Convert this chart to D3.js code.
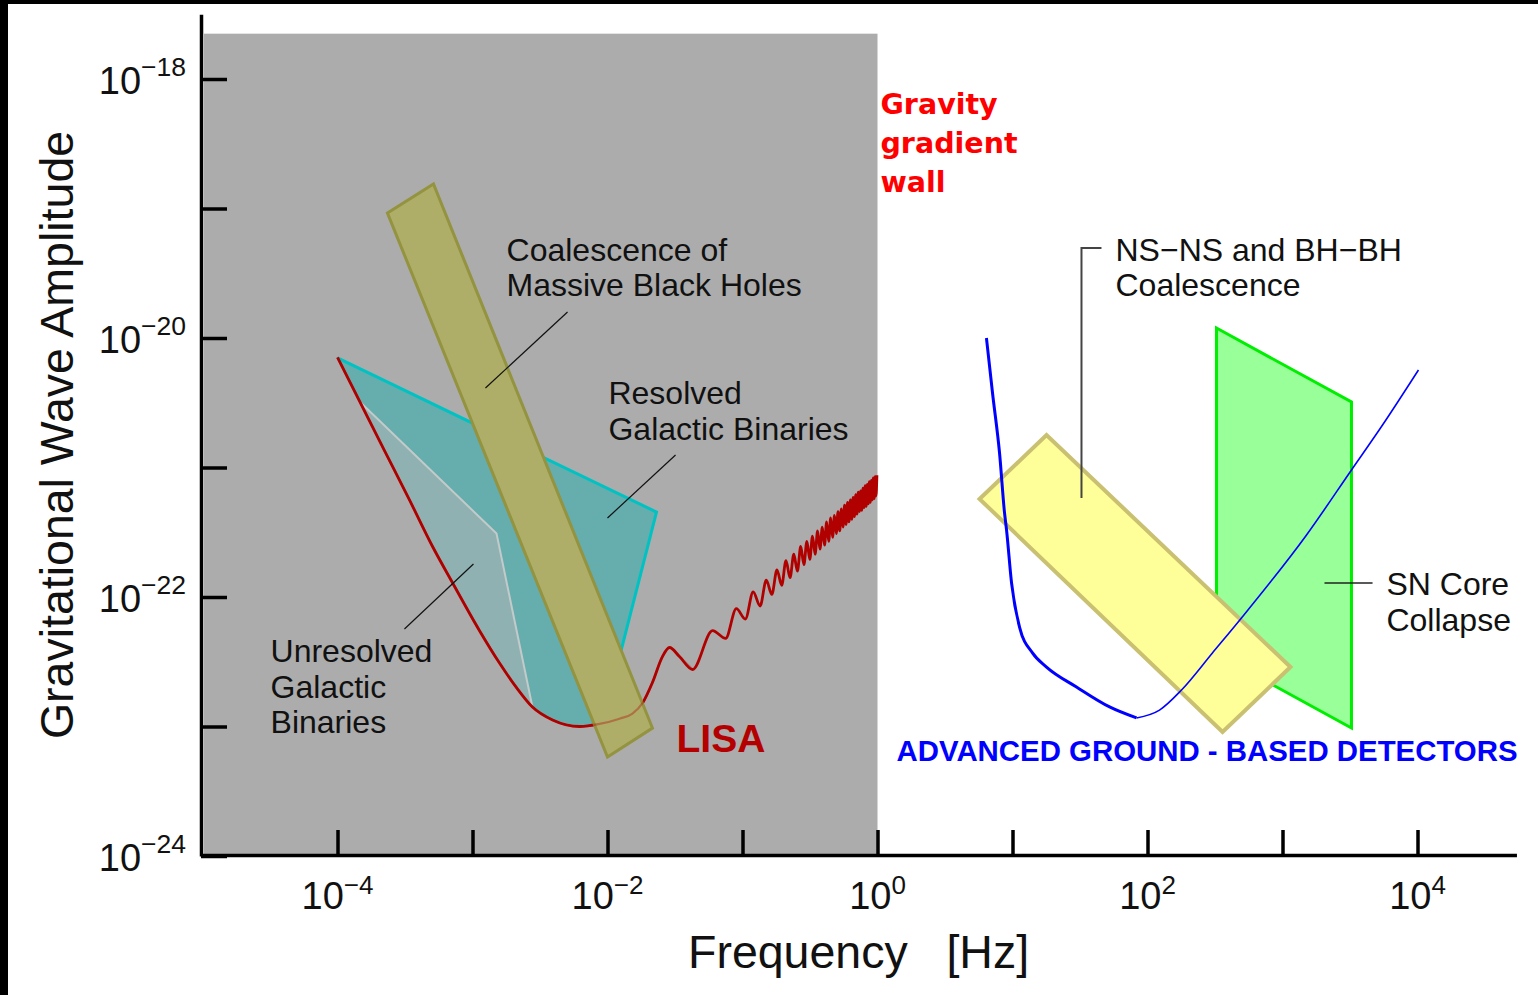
<!DOCTYPE html>
<html>
<head>
<meta charset="utf-8">
<script src="https://cdn.jsdelivr.net/npm/d3@7/dist/d3.min.js"></script>
<style>
  html, body { margin: 0; padding: 0; background: #fff; }
  svg { display: block; }
  text { font-family: "Liberation Sans", Arial, Helvetica, sans-serif; }
</style>
</head>
<body>
<svg id="chart" width="1538" height="995"></svg>
<script>
// values are log10 exponents (frequency in Hz, strain amplitude) unless named *Hz
const xTickExp = [-4, -3, -2, -1, 0, 1, 2, 3, 4];
const xLabelExp = [-4, -2, 0, 2, 4];
const yTickExp = [-24, -23, -22, -21, -20, -19, -18];
const yLabelExp = [-24, -22, -20, -18];

// gravity gradient wall (grey block)
const wallLogF = [-5, 0];
const wallLogH = [-24, -17.65];

// LISA sensitivity, smooth part
const lisaLogF = [-4.000, -3.652, -3.467, -3.296, -3.148, -2.948, -2.800, -2.674, -2.556, -2.407,
                  -2.207, -2.059, -1.911, -1.815, -1.741, -1.667, -1.593, -1.541, -1.467, -1.370];
const lisaLogH = [-20.15, -20.87, -21.25, -21.61, -21.89, -22.26, -22.51, -22.70, -22.85, -22.95,
                  -23.00, -22.98, -22.94, -22.90, -22.82, -22.66, -22.46, -22.39, -22.46, -22.56];
// LISA sensitivity, wiggly high-frequency part (peak, trough, peak, ...)
const lisaWiggleHz = [0.06, 0.075, 0.09, 0.105, 0.12, 0.135, 0.15, 0.165, 0.18, 0.195, 0.21, 0.225,
                      0.24, 0.255, 0.27, 0.285, 0.3, 0.315, 0.33, 0.345, 0.36, 0.375, 0.39, 0.405,
                      0.42, 0.435, 0.45, 0.465, 0.48, 0.495, 0.51, 0.525, 0.54, 0.555, 0.57, 0.585,
                      0.6, 0.615, 0.63, 0.645, 0.66, 0.675, 0.69, 0.705, 0.72, 0.735, 0.75, 0.765,
                      0.78, 0.795, 0.81, 0.825, 0.84, 0.855, 0.87, 0.885, 0.9, 0.915, 0.93, 0.945,
                      0.96, 0.975, 0.99];
const lisaWiggleLogH = [-22.26, -22.32, -22.09, -22.17, -21.96, -22.07, -21.87, -21.98, -21.79, -21.91,
                        -21.72, -21.85, -21.67, -21.80, -21.61, -21.75, -21.57, -21.71, -21.53, -21.67,
                        -21.49, -21.63, -21.46, -21.60, -21.42, -21.57, -21.39, -21.54, -21.37, -21.51,
                        -21.34, -21.49, -21.32, -21.46, -21.29, -21.44, -21.27, -21.42, -21.25, -21.40,
                        -21.23, -21.38, -21.21, -21.36, -21.19, -21.34, -21.18, -21.33, -21.16, -21.31,
                        -21.14, -21.30, -21.13, -21.28, -21.11, -21.27, -21.10, -21.25, -21.08, -21.24,
                        -21.07, -21.22, -21.06];

// source regions (corners; the lower edge of the binaries follows the LISA curve)
const resolvedLogF = [-4.000, -1.637, -2.037];
const resolvedLogH = [-20.154, -21.344, -22.973];
const unresolvedLogF = [-3.837, -2.822, -2.556];
const unresolvedLogH = [-20.49, -21.51, -22.85];
const mbhLogF = [-3.630, -3.289, -1.667, -2.000];
const mbhLogH = [-19.035, -18.811, -23.012, -23.236];
const nsLogF = [0.756, 1.252, 3.059, 2.556];
const nsLogH = [-21.243, -20.749, -22.541, -23.042];
const snLogF = [2.511, 3.511, 3.511, 2.511];
const snLogH = [-19.923, -20.494, -23.012, -22.440];

// advanced ground based detector noise curve
const ligoLogF = [0.807, 0.852, 0.904, 0.941, 0.956, 0.993, 1.052, 1.148, 1.252, 1.474,
                  1.719, 1.919, 2.089, 2.252, 2.481, 2.696, 3.178, 3.511, 3.741, 4.007];
const ligoLogH = [-20.000, -20.425, -20.888, -21.351, -21.483, -21.892, -22.232, -22.432, -22.541, -22.695,
                  -22.849, -22.934, -22.873, -22.718, -22.432, -22.162, -21.521, -21.019, -20.672, -20.247];

const svg = d3.select('#chart');
const pow = (e) => Math.pow(10, e);
const x = d3.scaleLog().domain([1e-5, pow(4.72)]).range([202.5, 202.5 + 9.72 * 135]);
const y = d3.scaleLog().domain([1e-24, pow(-17.5)]).range([856, 856 - 6.5 * 129.5]);
const px = (e) => x(pow(e));
const py = (e) => y(pow(e));
const toPts = (lf, lh) => lf.map((v, i) => [pow(v), pow(lh[i])]);

const smooth = d3.line().x((d) => x(d[0])).y((d) => y(d[1])).curve(d3.curveMonotoneX);
const straight = d3.line().x((d) => x(d[0])).y((d) => y(d[1]));

svg.append('rect').attr('width', 1538).attr('height', 995).attr('fill', '#fff');

// grey wall
svg.append('rect')
  .attr('x', px(wallLogF[0]) + 1.5)
  .attr('y', py(wallLogH[1]))
  .attr('width', px(wallLogF[1]) - px(wallLogF[0]) - 1.5)
  .attr('height', py(wallLogH[0]) - py(wallLogH[1]))
  .attr('fill', '#acacac');

const lisaSmooth = toPts(lisaLogF, lisaLogH);
const lisaPts = lisaSmooth.concat(lisaWiggleHz.map((f, i) => [f, pow(lisaWiggleLogH[i])]));

// resolved galactic binaries
const resCorners = toPts(resolvedLogF, resolvedLogH);
const resPoly = resCorners.concat(lisaSmooth.filter((d) => d[0] < pow(resolvedLogF[2])).reverse());
svg.append('path').attr('d', straight(resPoly) + 'Z').attr('fill', '#66adad');
svg.append('path').attr('d', straight(resCorners)).attr('fill', 'none')
  .attr('stroke', '#00c2c2').attr('stroke-width', 3).attr('stroke-linejoin', 'miter');

// unresolved galactic binaries
const unresCorners = toPts(unresolvedLogF, unresolvedLogH);
const unresPoly = unresCorners.concat(lisaSmooth
  .filter((d) => d[0] > pow(unresolvedLogF[0]) && d[0] < pow(unresolvedLogF[2])).reverse());
svg.append('path').attr('d', straight(unresPoly) + 'Z').attr('fill', '#90b1b1');
svg.append('path').attr('d', straight(unresCorners)).attr('fill', 'none')
  .attr('stroke', '#c2caca').attr('stroke-width', 2);

// LISA curve
svg.append('path').attr('d', smooth(lisaPts)).attr('fill', 'none')
  .attr('stroke', '#b00000').attr('stroke-width', 2.8).attr('stroke-linejoin', 'round');

// massive black holes band
svg.append('path').attr('d', straight(toPts(mbhLogF, mbhLogH)) + 'Z')
  .attr('fill', '#aeae68').attr('stroke', '#939340').attr('stroke-width', 3);
svg.append('path').attr('d', smooth(lisaSmooth)).attr('fill', 'none')
  .attr('stroke', '#b00000').attr('stroke-width', 2.2).attr('opacity', 0.35);

// SN core collapse
svg.append('path').attr('d', straight(toPts(snLogF, snLogH)) + 'Z')
  .attr('fill', '#99ff99').attr('stroke', '#00ee00').attr('stroke-width', 3);
// NS-NS / BH-BH band
svg.append('path').attr('d', straight(toPts(nsLogF, nsLogH)) + 'Z')
  .attr('fill', '#ffff99').attr('stroke', '#c9c171').attr('stroke-width', 4);

// ground detector curve: thick on the steep side, thin above the bucket
const ligoPts = toPts(ligoLogF, ligoLogH);
svg.append('path').attr('d', smooth(ligoPts.slice(0, 12))).attr('fill', 'none')
  .attr('stroke', '#0000ff').attr('stroke-width', 3);
svg.append('path').attr('d', smooth(ligoPts.slice(11))).attr('fill', 'none')
  .attr('stroke', '#0000ff').attr('stroke-width', 1.6);

// axes
const xAxis = d3.axisBottom(x).tickValues(xTickExp.map(pow)).tickSize(-25).tickSizeOuter(0).tickFormat(() => '');
svg.append('g').attr('transform', 'translate(0,855)').call(xAxis)
  .call((g) => {
    g.select('.domain').attr('stroke', '#000').attr('stroke-width', 3.5).attr('stroke-linecap', 'square');
    g.selectAll('.tick line').attr('stroke', '#000').attr('stroke-width', 3.5);
  });
const yAxis = d3.axisLeft(y).tickValues(yTickExp.map(pow)).tickSize(-26).tickSizeOuter(0).tickFormat(() => '');
svg.append('g').attr('transform', 'translate(201,0)').call(yAxis)
  .call((g) => {
    g.select('.domain').attr('stroke', '#000').attr('stroke-width', 3.5);
    g.selectAll('.tick line').attr('stroke', '#000').attr('stroke-width', 3.5);
  });

const expText = (e) => (e < 0 ? '\u2212' + (-e) : String(e));
xLabelExp.forEach((e) => {
  const t = svg.append('text').attr('x', px(e)).attr('y', 909)
    .attr('text-anchor', 'middle').attr('font-size', 38).attr('fill', '#111');
  t.append('tspan').text('10');
  t.append('tspan').attr('dy', -15).attr('font-size', 26).text(expText(e));
});
yLabelExp.forEach((e) => {
  const t = svg.append('text').attr('x', 186).attr('y', py(e) + 15)
    .attr('text-anchor', 'end').attr('font-size', 38).attr('fill', '#111');
  t.append('tspan').text('10');
  t.append('tspan').attr('dy', -18).attr('font-size', 26.5).text(expText(e));
});

svg.append('text').attr('transform', 'translate(73,435) rotate(-90)')
  .attr('text-anchor', 'middle').attr('font-size', 46.5).attr('fill', '#111')
  .text('Gravitational Wave Amplitude');
svg.append('text').attr('x', 688).attr('y', 968).attr('font-size', 46.5).attr('fill', '#111')
  .style('white-space', 'pre').text('Frequency   [Hz]');

// annotations, anchored in data space
function label(lf, lh, lines, opts) {
  const o = Object.assign({size: 32, lead: 35.5, fill: '#111', weight: 'normal', family: null}, opts);
  const t = svg.append('text').attr('x', px(lf)).attr('y', py(lh))
    .attr('font-size', o.size).attr('fill', o.fill).attr('font-weight', o.weight);
  if (o.family) t.style('font-family', o.family);
  lines.forEach((s, i) => t.append('tspan').attr('x', px(lf)).attr('dy', i === 0 ? 0 : o.lead).text(s));
  return t;
}
function pointer(lf, lh, color, width) {
  svg.append('path').attr('d', straight(toPts(lf, lh))).attr('fill', 'none')
    .attr('stroke', color || '#111').attr('stroke-width', width || 1.2);
}

label(-2.748, -19.405, ['Coalescence of', 'Massive Black Holes']);
pointer([-2.296, -2.904], [-19.799, -20.386]);
label(-1.993, -20.51, ['Resolved', 'Galactic Binaries']);
pointer([-1.496, -2.0], [-20.903, -21.390]);
label(-4.496, -22.502, ['Unresolved', 'Galactic', 'Binaries']);
pointer([-2.993, -3.504], [-21.745, -22.247]);
label(-1.489, -23.197, ['LISA'], {size: 39, weight: 'bold', fill: '#b40000'});
label(0.022, -18.270, ['Gravity', 'gradient', 'wall'],
  {size: 28.5, lead: 39, weight: 'bold', fill: '#ff0000', family: '"DejaVu Sans", Verdana, sans-serif'});
label(1.763, -19.405, ['NS\u2212NS and BH\u2212BH', 'Coalescence']);
pointer([1.659, 1.511, 1.511], [-19.305, -19.305, -21.236], '#444', 2);
label(3.770, -21.985, ['SN Core', 'Collapse']);
pointer([3.311, 3.667], [-21.892, -21.892], '#222', 1.6);
label(0.141, -23.266, ['ADVANCED GROUND - BASED DETECTORS'], {size: 29, weight: 'bold', fill: '#0000ff'})
  .attr('textLength', 621).attr('lengthAdjust', 'spacingAndGlyphs');

// black frame strips of the original picture
svg.append('rect').attr('x', 0).attr('y', 0).attr('width', 8).attr('height', 995).attr('fill', '#000');
svg.append('rect').attr('x', 0).attr('y', 0).attr('width', 1538).attr('height', 4).attr('fill', '#000');
</script>
</body>
</html>
